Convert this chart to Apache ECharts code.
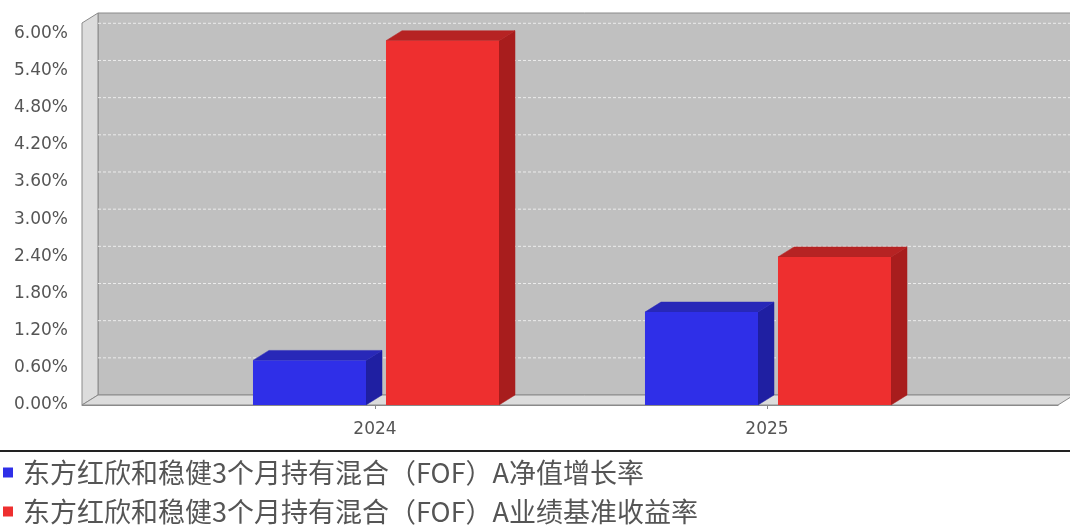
<!DOCTYPE html>
<html>
<head>
<meta charset="utf-8">
<script src="https://cdn.jsdelivr.net/npm/echarts@6/dist/echarts.min.js"></script>
<style>
  html, body { margin: 0; padding: 0; background: #ffffff; }
  #chart { width: 1070px; height: 526px; }
</style>
</head>
<body>
<div id="chart"></div>
<script>
// ---- data ----
const categories = ['2024', '2025'];
const navGrowth = [0.72, 1.50];        // 净值增长率 (%)
const benchmark = [5.88, 2.39];        // 业绩基准收益率 (%)
const yTicks = [0, 0.6, 1.2, 1.8, 2.4, 3.0, 3.6, 4.2, 4.8, 5.4, 6.0];
const seriesNames = [
  '东方红欣和稳健3个月持有混合（FOF）A净值增长率',
  '东方红欣和稳健3个月持有混合（FOF）A业绩基准收益率'
];

// ---- layout / 3D style constants ----
const DX = 16, DY = -10;
const X_MIN = -0.7474, X_MAX = 1.7424;
const Y_MAX = 6.166;
const BAR_W = 0.2883;
const OFFSETS = [-0.3112, 0.0281];
const FACE = [
  { front: '#2f2fe8', top: '#2828b8', side: '#1f1fa2' },
  { front: '#ee2f2f', top: '#b62323', side: '#a81d1d' }
];

const chart = echarts.init(document.getElementById('chart'), null, { renderer: 'canvas' });

function barRenderer(sIdx) {
  return function (params, api) {
    const i = api.value(0), v = api.value(1);
    const off = OFFSETS[sIdx];
    const p0 = api.coord([i + off, 0]);
    const p1 = api.coord([i + off + BAR_W, v]);
    const x0 = p0[0], y0 = p0[1], x1 = p1[0], y1 = p1[1];
    const c = FACE[sIdx];
    return {
      type: 'group',
      children: [
        { type: 'polygon', shape: { points: [[x1, y1], [x1 + DX, y1 + DY], [x1 + DX, y0 + DY], [x1, y0]] },
          style: { fill: c.side, stroke: c.side, lineWidth: 0.5 } },
        { type: 'polygon', shape: { points: [[x0, y1], [x0 + DX, y1 + DY], [x1 + DX, y1 + DY], [x1, y1]] },
          style: { fill: c.top, stroke: c.top, lineWidth: 0.5 } },
        { type: 'rect', shape: { x: x0, y: y1, width: x1 - x0, height: y0 - y1 },
          style: { fill: c.front } }
      ]
    };
  };
}

function wallRenderer(params, api) {
  const bl = api.coord([X_MIN, 0]);
  const tl = api.coord([X_MIN, Y_MAX]);
  const br = api.coord([X_MAX, 0]);
  const children = [];
  // back wall
  children.push({ type: 'rect',
    shape: { x: bl[0] + DX, y: tl[1] + DY, width: br[0] - bl[0], height: bl[1] - tl[1] },
    style: { fill: '#c0c0c0', stroke: '#8a8a8a', lineWidth: 1 } });
  // left wall
  children.push({ type: 'polygon',
    shape: { points: [[tl[0], tl[1]], [tl[0] + DX, tl[1] + DY], [bl[0] + DX, bl[1] + DY], [bl[0], bl[1]]] },
    style: { fill: '#dcdcdc', stroke: '#8a8a8a', lineWidth: 1 } });
  // floor
  children.push({ type: 'polygon',
    shape: { points: [[bl[0], bl[1]], [bl[0] + DX, bl[1] + DY], [br[0] + DX, br[1] + DY], [br[0], br[1]]] },
    style: { fill: '#dcdcdc', stroke: '#8a8a8a', lineWidth: 1 } });
  // gridlines on back wall
  yTicks.forEach(function (t) {
    if (t === 0) return;
    const p = api.coord([X_MIN, t]);
    children.push({ type: 'line',
      shape: { x1: p[0] + DX, y1: p[1] + DY, x2: br[0] + DX, y2: p[1] + DY },
      style: { stroke: '#ececec', lineWidth: 1, lineDash: [3, 2] } });
  });
  return { type: 'group', children: children };
}

const option = {
  backgroundColor: '#ffffff',
  animation: false,
  grid: { left: 82, right: 12, top: 23, bottom: 121, containLabel: false },
  xAxis: {
    type: 'value',
    min: X_MIN, max: X_MAX,
    offset: 5,
    splitLine: { show: false },
    axisLine: { show: true, lineStyle: { color: '#8a8a8a', width: 1 } },
    axisTick: { show: true, customValues: [0, 1], length: 4, lineStyle: { color: '#8a8a8a' } },
    axisLabel: {
      customValues: [0, 1],
      formatter: function (v) { return categories[Math.round(v)]; },
      color: '#555555', fontSize: 17, fontFamily: 'DejaVu Sans', margin: 11
    }
  },
  yAxis: {
    type: 'value',
    min: 0, max: Y_MAX,
    splitLine: { show: false },
    axisLine: { show: true, lineStyle: { color: '#8a8a8a', width: 1 } },
    axisTick: { show: true, customValues: yTicks, length: 4, lineStyle: { color: '#8a8a8a' } },
    axisLabel: {
      customValues: yTicks,
      formatter: function (v) { return v.toFixed(2) + '%'; },
      color: '#555555', fontSize: 17, fontFamily: 'DejaVu Sans', margin: 14
    }
  },
  legend: {
    data: seriesNames,
    orient: 'vertical',
    left: 3, top: 459,
    padding: 0,
    height: 67,
    icon: 'rect',
    itemWidth: 10, itemHeight: 10,
    itemGap: 12,
    selectedMode: false,
    textStyle: { fontSize: 27, color: '#555555', fontFamily: 'Noto Sans CJK SC', lineHeight: 26,
                 padding: [0, 0, 0, 5] }
  },
  graphic: [
    { type: 'line', shape: { x1: 0, y1: 451, x2: 1070, y2: 451 },
      style: { stroke: '#222222', lineWidth: 2 } }
  ],
  series: [
    { type: 'custom', name: 'walls', renderItem: wallRenderer, data: [[0, 0]], z: 1, silent: true,
      encode: { x: 0, y: 1 } },
    { type: 'custom', name: seriesNames[0], renderItem: barRenderer(0), z: 2,
      itemStyle: { color: '#2f2fe8' },
      data: categories.map(function (c, i) { return [i, navGrowth[i]]; }),
      encode: { x: 0, y: 1 } },
    { type: 'custom', name: seriesNames[1], renderItem: barRenderer(1), z: 2,
      itemStyle: { color: '#ee2f2f' },
      data: categories.map(function (c, i) { return [i, benchmark[i]]; }),
      encode: { x: 0, y: 1 } }
  ]
};
chart.setOption(option);
</script>
</body>
</html>
